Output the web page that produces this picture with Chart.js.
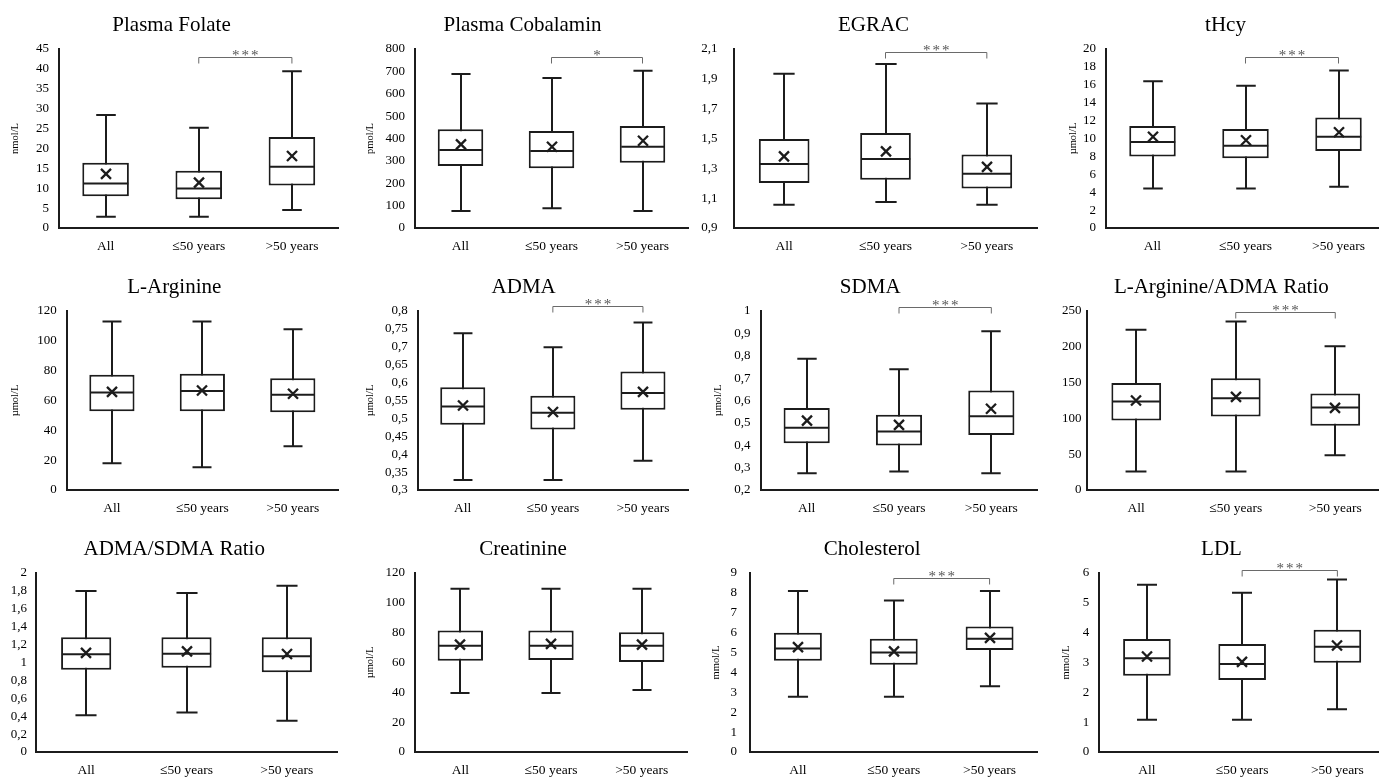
<!DOCTYPE html>
<html>
<head>
<meta charset="utf-8">
<script src="https://cdn.jsdelivr.net/npm/chart.js@4.4.1/dist/chart.umd.min.js"></script>
<style>
  html, body { margin: 0; padding: 0; background: #fff; }
  body { width: 1379px; height: 778px; overflow: hidden; position: relative; }
  canvas { position: absolute; }
</style>
</head>
<body>
<script>
// ---------- DATA ----------
const categories = ['All', '\u226450 years', '>50 years'];

const titles = ['Plasma Folate', 'Plasma Cobalamin', 'EGRAC', 'tHcy',
                'L-Arginine', 'ADMA', 'SDMA', 'L-Arginine/ADMA Ratio',
                'ADMA/SDMA Ratio', 'Creatinine', 'Cholesterol', 'LDL'];
const units = ['nmol/L', 'pmol/L', '', '\u00b5mol/L',
               '\u00b5mol/L', '\u00b5mol/L', '\u00b5mol/L', '',
               '', '\u00b5mol/L', 'mmol/L', 'mmol/L'];
const significance = ['***', '*', '***', '***', '', '***', '***', '***', '', '', '***', '***'];

// tick labels (y axis)
const folateTicks = [0, 5, 10, 15, 20, 25, 30, 35, 40, 45];
const cobalaminTicks = [0, 100, 200, 300, 400, 500, 600, 700, 800];
const egracTicks = [0.9, 1.1, 1.3, 1.5, 1.7, 1.9, 2.1];
const thcyTicks = [0, 2, 4, 6, 8, 10, 12, 14, 16, 18, 20];
const argTicks = [0, 20, 40, 60, 80, 100, 120];
const admaTicks = [0.3, 0.35, 0.4, 0.45, 0.5, 0.55, 0.6, 0.65, 0.7, 0.75, 0.8];
const sdmaTicks = [0.2, 0.3, 0.4, 0.5, 0.6, 0.7, 0.8, 0.9, 1];
const argAdmaTicks = [0, 50, 100, 150, 200, 250];
const admaSdmaTicks = [0, 0.2, 0.4, 0.6, 0.8, 1, 1.2, 1.4, 1.6, 1.8, 2];
const creatTicks = [0, 20, 40, 60, 80, 100, 120];
const cholTicks = [0, 1, 2, 3, 4, 5, 6, 7, 8, 9];
const ldlTicks = [0, 1, 2, 3, 4, 5, 6];

// series values: [All, <=50 years, >50 years]
const folateMin = [2.8, 2.8, 4.5];
const folateQ1 = [8.0, 7.2, 10.7];
const folateMedian = [11.2, 9.9, 15.4];
const folateQ3 = [16.4, 14.4, 22.9];
const folateMax = [28.4, 25.2, 39.4];
const folateMean = [13.6, 11.4, 18.1];

const cobalaminMin = [76, 88, 76];
const cobalaminQ1 = [277, 267, 292];
const cobalaminMedian = [349, 344, 363];
const cobalaminQ3 = [441, 433, 456];
const cobalaminMax = [688, 670, 703];
const cobalaminMean = [374, 363, 390];

const egracMin = [1.056, 1.075, 1.056];
const egracQ1 = [1.202, 1.224, 1.164];
const egracMedian = [1.329, 1.363, 1.264];
const egracQ3 = [1.497, 1.537, 1.392];
const egracMax = [1.934, 2.0, 1.735];
const egracMean = [1.38, 1.414, 1.31];

const thcyMin = [4.4, 4.4, 4.6];
const thcyQ1 = [8.0, 7.8, 8.6];
const thcyMedian = [9.6, 9.2, 10.2];
const thcyQ3 = [11.4, 11.06, 12.36];
const thcyMax = [16.4, 15.9, 17.6];
const thcyMean = [10.2, 9.8, 10.7];

const argMin = [17.9, 15.2, 29.3];
const argQ1 = [52.8, 52.8, 52.2];
const argMedian = [65.4, 66.3, 63.8];
const argQ3 = [77.2, 77.9, 75.0];
const argMax = [113, 113, 107.7];
const argMean = [65.8, 66.7, 64.5];

const admaMin = [0.328, 0.328, 0.382];
const admaQ1 = [0.482, 0.469, 0.524];
const admaMedian = [0.533, 0.516, 0.571];
const admaQ3 = [0.587, 0.563, 0.631];
const admaMax = [0.738, 0.699, 0.768];
const admaMean = [0.536, 0.518, 0.574];

const sdmaMin = [0.275, 0.283, 0.275];
const sdmaQ1 = [0.409, 0.399, 0.446];
const sdmaMedian = [0.478, 0.462, 0.53];
const sdmaQ3 = [0.566, 0.536, 0.645];
const sdmaMax = [0.787, 0.74, 0.91];
const sdmaMean = [0.51, 0.491, 0.563];

const argAdmaMin = [25.7, 25.7, 48.5];
const argAdmaQ1 = [97, 102.6, 89.6];
const argAdmaMedian = [123.6, 128.3, 115.2];
const argAdmaQ3 = [149.3, 156.2, 134.8];
const argAdmaMax = [223.9, 235.5, 200.6];
const argAdmaMean = [125, 130.1, 114.7];

const admaSdmaMin = [0.411, 0.441, 0.348];
const admaSdmaQ1 = [0.92, 0.942, 0.89];
const admaSdmaMedian = [1.092, 1.099, 1.069];
const admaSdmaQ3 = [1.282, 1.282, 1.282];
const admaSdmaMax = [1.798, 1.776, 1.858];
const admaSdmaMean = [1.107, 1.125, 1.095];

const creatMin = [39.5, 39.5, 41.5];
const creatQ1 = [61.2, 61.7, 60.3];
const creatMedian = [71.3, 71.3, 71.3];
const creatQ3 = [81.4, 81.4, 80.3];
const creatMax = [109.5, 109.5, 109.5];
const creatMean = [72.0, 72.5, 72.0];

const cholMin = [2.78, 2.78, 3.30];
const cholQ1 = [4.59, 4.39, 5.13];
const cholMedian = [5.21, 5.0, 5.70];
const cholQ3 = [5.99, 5.70, 6.31];
const cholMax = [8.09, 7.62, 8.09];
const cholMean = [5.27, 5.06, 5.74];

const ldlMin = [1.08, 1.08, 1.43];
const ldlQ1 = [2.56, 2.41, 2.99];
const ldlMedian = [3.14, 2.95, 3.53];
const ldlQ3 = [3.79, 3.62, 4.10];
const ldlMax = [5.61, 5.34, 5.78];
const ldlMean = [3.20, 3.02, 3.57];

// ---------- TABLE BUILT FROM THE ARRAYS ----------
const panelStats = [
  {min: folateMin, q1: folateQ1, med: folateMedian, q3: folateQ3, max: folateMax, mean: folateMean, ticks: folateTicks},
  {min: cobalaminMin, q1: cobalaminQ1, med: cobalaminMedian, q3: cobalaminQ3, max: cobalaminMax, mean: cobalaminMean, ticks: cobalaminTicks},
  {min: egracMin, q1: egracQ1, med: egracMedian, q3: egracQ3, max: egracMax, mean: egracMean, ticks: egracTicks},
  {min: thcyMin, q1: thcyQ1, med: thcyMedian, q3: thcyQ3, max: thcyMax, mean: thcyMean, ticks: thcyTicks},
  {min: argMin, q1: argQ1, med: argMedian, q3: argQ3, max: argMax, mean: argMean, ticks: argTicks},
  {min: admaMin, q1: admaQ1, med: admaMedian, q3: admaQ3, max: admaMax, mean: admaMean, ticks: admaTicks},
  {min: sdmaMin, q1: sdmaQ1, med: sdmaMedian, q3: sdmaQ3, max: sdmaMax, mean: sdmaMean, ticks: sdmaTicks},
  {min: argAdmaMin, q1: argAdmaQ1, med: argAdmaMedian, q3: argAdmaQ3, max: argAdmaMax, mean: argAdmaMean, ticks: argAdmaTicks},
  {min: admaSdmaMin, q1: admaSdmaQ1, med: admaSdmaMedian, q3: admaSdmaQ3, max: admaSdmaMax, mean: admaSdmaMean, ticks: admaSdmaTicks},
  {min: creatMin, q1: creatQ1, med: creatMedian, q3: creatQ3, max: creatMax, mean: creatMean, ticks: creatTicks},
  {min: cholMin, q1: cholQ1, med: cholMedian, q3: cholQ3, max: cholMax, mean: cholMean, ticks: cholTicks},
  {min: ldlMin, q1: ldlQ1, med: ldlMedian, q3: ldlQ3, max: ldlMax, mean: ldlMean, ticks: ldlTicks}
];

// ---------- LAYOUT (positions / sizes only) ----------
// L,T: canvas origin; cl/cr: plot left/right inside canvas; tc: title centre; yt: axis-title centre;
// tp: tick-label gap; br: bracket offset from plot top
const layoutCfg = [
  {L: 0,    T: 0,   cl: 59,   cr: 338.5, tc: 171.5, yt: 15,   tp: 10, br: 8},
  {L: 345,  T: 0,   cl: 70,   cr: 343,   tc: 177.5, yt: 25,   tp: 10, br: 8},
  {L: 690,  T: 0,   cl: 43.5, cr: 347.5, tc: 183.5, yt: 0,    tp: 16, br: 3},
  {L: 1035, T: 0,   cl: 71,   cr: 350,   tc: 190.5, yt: 38,   tp: 10, br: 8},
  {L: 0,    T: 262, cl: 66.7, cr: 338,   tc: 174.3, yt: 15,   tp: 10, br: 0},
  {L: 345,  T: 262, cl: 72.7, cr: 343,   tc: 178.7, yt: 25,   tp: 10, br: -5},
  {L: 690,  T: 262, cl: 70.5, cr: 347.5, tc: 180.2, yt: 28.3, tp: 10, br: -4},
  {L: 1035, T: 262, cl: 51.5, cr: 350,   tc: 186.3, yt: 0,    tp: 5,  br: 1},
  {L: 0,    T: 524, cl: 36,   cr: 337,   tc: 174.2, yt: 0,    tp: 9,  br: 0},
  {L: 345,  T: 524, cl: 70,   cr: 342,   tc: 178,   yt: 25,   tp: 10, br: 0},
  {L: 690,  T: 524, cl: 60,   cr: 347.5, tc: 182.2, yt: 26.7, tp: 13, br: 4.6},
  {L: 1035, T: 524, cl: 64.3, cr: 350,   tc: 186.5, yt: 31.7, tp: 10, br: -3.4}
];
const CW = 352, H = 266;
const LINE = '#1c1c1c';
const SERIF = "'Liberation Serif', 'Times New Roman', serif";
const fmt = v => String(v).replace('.', ',');

const titlePlugin = {
  id: 'panelTitle',
  afterDraw(chart, args, opts) {
    const ctx = chart.ctx;
    ctx.save();
    ctx.font = '21px ' + SERIF;
    ctx.fillStyle = '#000';
    ctx.textAlign = 'center';
    ctx.textBaseline = 'alphabetic';
    ctx.fillText(opts.text, opts.x, opts.y);
    ctx.restore();
  }
};

const boxPlugin = {
  id: 'boxExtras',
  beforeDatasetsDraw(chart, args, opts) {
    const st = opts.stats, ys = chart.scales.y, xs = chart.scales.x;
    const meta = chart.getDatasetMeta(0);
    const ctx = chart.ctx;
    ctx.save();
    ctx.strokeStyle = LINE;
    ctx.lineWidth = 2;
    meta.data.forEach((bar, i) => {
      const cx = Math.round(xs.getPixelForValue(i));
      const half = bar.width * 0.21;
      const yMin = ys.getPixelForValue(st.min[i]);
      const yMax = ys.getPixelForValue(st.max[i]);
      ctx.beginPath();
      ctx.moveTo(cx, yMin); ctx.lineTo(cx, yMax);
      ctx.moveTo(cx - half, yMin); ctx.lineTo(cx + half, yMin);
      ctx.moveTo(cx - half, yMax); ctx.lineTo(cx + half, yMax);
      ctx.stroke();
    });
    ctx.restore();
  },
  afterDatasetsDraw(chart, args, opts) {
    const st = opts.stats, ys = chart.scales.y, xs = chart.scales.x;
    const meta = chart.getDatasetMeta(0);
    const ctx = chart.ctx;
    ctx.save();
    ctx.strokeStyle = LINE;
    ctx.lineWidth = 2;
    meta.data.forEach((bar, i) => {
      const cx = Math.round(xs.getPixelForValue(i));
      const hw = bar.width / 2;
      const yMed = ys.getPixelForValue(st.med[i]);
      ctx.beginPath();
      ctx.moveTo(cx - hw + 1, yMed); ctx.lineTo(cx + hw - 1, yMed);
      ctx.stroke();
      const yMean = ys.getPixelForValue(st.mean[i]);
      const s = 5;
      ctx.lineWidth = 2.3;
      ctx.beginPath();
      ctx.moveTo(cx - s, yMean - s); ctx.lineTo(cx + s, yMean + s);
      ctx.moveTo(cx - s, yMean + s); ctx.lineTo(cx + s, yMean - s);
      ctx.stroke();
      ctx.lineWidth = 2;
    });
    if (opts.sig) {
      const x1 = xs.getPixelForValue(1), x2 = xs.getPixelForValue(2);
      const yb = Math.round(chart.chartArea.top + opts.br) + 0.5;
      ctx.strokeStyle = '#6a6a6a';
      ctx.lineWidth = 1;
      ctx.beginPath();
      ctx.moveTo(x1, yb + 6); ctx.lineTo(x1, yb); ctx.lineTo(x2, yb); ctx.lineTo(x2, yb + 6);
      ctx.stroke();
      ctx.fillStyle = '#555';
      ctx.font = '15px ' + SERIF;
      ctx.textAlign = 'center';
      ctx.textBaseline = 'alphabetic';
      if ('letterSpacing' in ctx) ctx.letterSpacing = '2px';
      ctx.fillText(opts.sig, (x1 + x2) / 2 + 1, yb + 2);
    }
    ctx.restore();
  }
};

panelStats.forEach((st, p) => {
  const lc = layoutCfg[p];
  const cv = document.createElement('canvas');
  cv.width = CW; cv.height = H;
  cv.style.left = lc.L + 'px'; cv.style.top = lc.T + 'px';
  cv.style.width = CW + 'px'; cv.style.height = H + 'px';
  document.body.appendChild(cv);
  const tks = st.ticks;
  new Chart(cv, {
    type: 'bar',
    data: {
      labels: categories,
      datasets: [{
        data: st.q1.map((v, i) => [v, st.q3[i]]),
        backgroundColor: '#ffffff',
        borderColor: LINE,
        borderWidth: 2,
        borderSkipped: false,
        barPercentage: 0.5,
        categoryPercentage: 1
      }]
    },
    options: {
      responsive: false,
      animation: false,
      devicePixelRatio: 1,
      events: [],
      layout: { padding: { left: 0, right: CW - lc.cr, top: 49, bottom: 1.4 } },
      plugins: {
        legend: { display: false },
        tooltip: { enabled: false },
        title: { display: false },
        panelTitle: { text: titles[p], x: lc.tc, y: 30.5 },
        boxExtras: { stats: st, sig: significance[p], br: lc.br }
      },
      scales: {
        x: {
          grid: { display: false, drawTicks: false },
          border: { display: true, color: LINE, width: 2 },
          ticks: { color: '#000', font: { family: SERIF, size: 13.5, lineHeight: 1.2 }, padding: 10.2, maxRotation: 0 }
        },
        y: {
          min: tks[0], max: tks[tks.length - 1],
          afterBuildTicks: s => { s.ticks = tks.map(v => ({ value: v })); },
          afterFit: s => { s.width = lc.cl; },
          grid: { display: false, drawTicks: false },
          border: { display: true, color: LINE, width: 2 },
          ticks: { color: '#000', autoSkip: false, font: { family: SERIF, size: 13, lineHeight: 1.2 }, padding: lc.tp, callback: v => fmt(v) },
          title: {
            display: units[p] !== '', text: units[p], color: '#000',
            font: { family: SERIF, size: 10.5, lineHeight: 1.2 },
            padding: { top: lc.yt - 6.3, bottom: 0 }
          }
        }
      }
    },
    plugins: [boxPlugin, titlePlugin]
  });
});
</script>
</body>
</html>
